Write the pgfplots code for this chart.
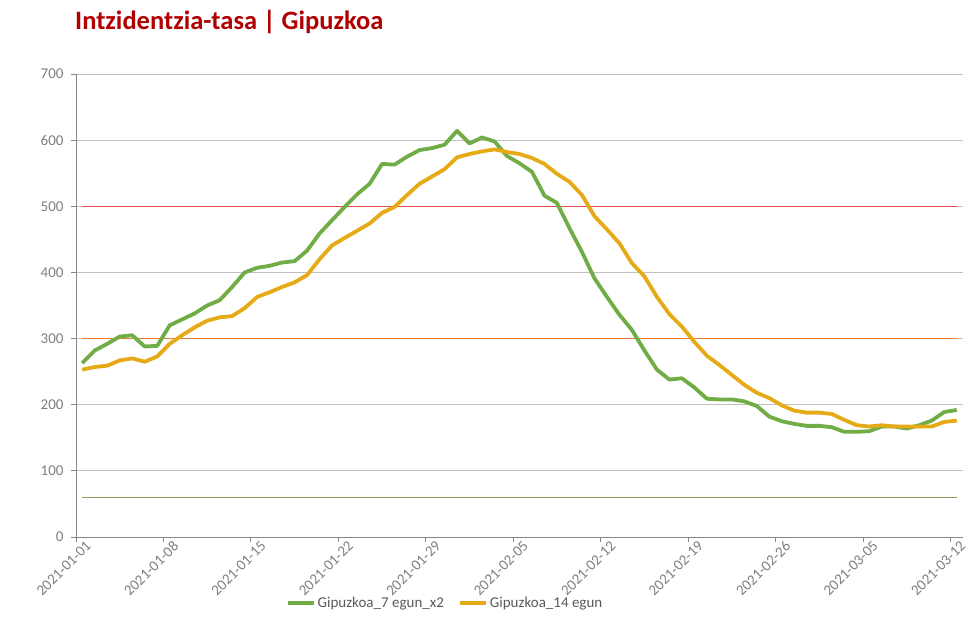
\documentclass[border=0pt]{standalone}
\usepackage{fontspec}
\setmainfont{Carlito}
\usepackage{pgfplots}
\usepackage{pgfplotstable}
\pgfplotsset{compat=1.18}

\definecolor{titlered}{HTML}{B00000}
\definecolor{sgreen}{HTML}{70AD47}
\definecolor{syellow}{HTML}{E6AA17}
\definecolor{lred}{HTML}{E04A4A}
\definecolor{lorange}{HTML}{ED7D31}
\definecolor{lgreen}{HTML}{8EA160}
\definecolor{gridgray}{HTML}{C0C0C0}
\definecolor{axisgray}{HTML}{868686}
\definecolor{labgray}{HTML}{7F7F7F}
\definecolor{leggray}{HTML}{595959}

% day index (0 = 2021-01-01), value
\pgfplotstableread{
d v
0 263
1 282
2 292
3 303
4 305
5 288
6 289
7 320
8 329
9 338
10 350
11 358
12 378
13 400
14 407
15 410
16 415
17 417
18 433
19 459
20 479
21 499
22 518
23 534
24 564
25 563
26 575
27 585
28 588
29 593
30 614
31 595
32 604
33 598
34 576
35 565
36 552
37 516
38 505
39 467
40 431
41 391
42 363
43 336
44 313
45 282
46 253
47 238
48 240
49 226
50 209
51 208
52 208
53 205
54 198
55 182
56 175
57 171
58 168
59 168
60 166
61 159
62 159
63 160
64 167
65 167
66 164
67 169
68 176
69 189
70 192
}\sevendays

\pgfplotstableread{
d v
0 253
1 257
2 259
3 267
4 270
5 265
6 273
7 292
8 305
9 317
10 327
11 332
12 334
13 346
14 363
15 370
16 378
17 385
18 396
19 420
20 441
21 452
22 463
23 474
24 490
25 499
26 517
27 534
28 545
29 556
30 574
31 579
32 583
33 586
34 582
35 579
36 573
37 564
38 549
39 537
40 517
41 485
42 465
43 444
44 414
45 394
46 363
47 337
48 318
49 295
50 274
51 260
52 245
53 230
54 218
55 210
56 199
57 191
58 188
59 188
60 186
61 177
62 169
63 167
64 169
65 167
66 167
67 167
68 167
69 174
70 176
}\fourteendays

\begin{document}
\begin{tikzpicture}
\useasboundingbox (0,0) rectangle (978pt,639pt);
\node[anchor=base west, inner sep=0pt, text=titlered,
      font=\fontsize{26.5}{30}\selectfont\bfseries] at (75pt,609pt)
  {Intzidentzia-tasa | Gipuzkoa};
\begin{axis}[
  at={(76pt,102pt)}, anchor=south west,
  scale only axis, width=887pt, height=463pt,
  xmin=-0.5, xmax=70.5, ymin=0, ymax=700,
  axis x line*=bottom, axis y line*=left,
  axis line style={axisgray, line width=0.9pt},
  ytick={0,100,...,700},
  xtick={-0.5,6.5,...,69.5},
  xticklabels={2021-01-01,2021-01-08,2021-01-15,2021-01-22,2021-01-29,
    2021-02-05,2021-02-12,2021-02-19,2021-02-26,2021-03-05,2021-03-12},
  tick align=outside, major tick length=5pt,
  tick style={axisgray, line width=0.9pt},
  ymajorgrids, grid style={gridgray, line width=0.9pt},
  /pgf/number format/assume math mode=true,
  ticklabel style={font=\fontsize{15}{17}\selectfont, text=labgray},
  yticklabel style={xshift=-4pt},
  xticklabel style={rotate=45, anchor=east, xshift=11pt, yshift=-10pt},
  legend columns=2,
  legend style={at={(0.416,-0.1425)}, anchor=center, draw=none, fill=none,
    font=\fontsize{15}{17}\selectfont, text=leggray,
    /tikz/every even column/.append style={column sep=12pt}},
  legend cell align=left,
  legend image code/.code={\draw[#1, line width=4pt] (0pt,0pt) -- (26pt,0pt);},
]
\addplot[lred, line width=1.2pt, forget plot] coordinates {(0,500) (70,500)};
\addplot[lorange, line width=1.2pt, forget plot] coordinates {(0,300) (70,300)};
\addplot[lgreen, line width=1.2pt, forget plot] coordinates {(0,60) (70,60)};
\addplot[sgreen, line width=3.8pt, line join=round] table[x=d, y=v] {\sevendays};
\addplot[syellow, line width=3.8pt, line join=round] table[x=d, y=v] {\fourteendays};
\draw[axisgray, line width=0.9pt] (rel axis cs:1,0) -- (rel axis cs:1,1);
\legend{Gipuzkoa\_7 egun\_x2, Gipuzkoa\_14 egun}
\end{axis}
\end{tikzpicture}
\end{document}
